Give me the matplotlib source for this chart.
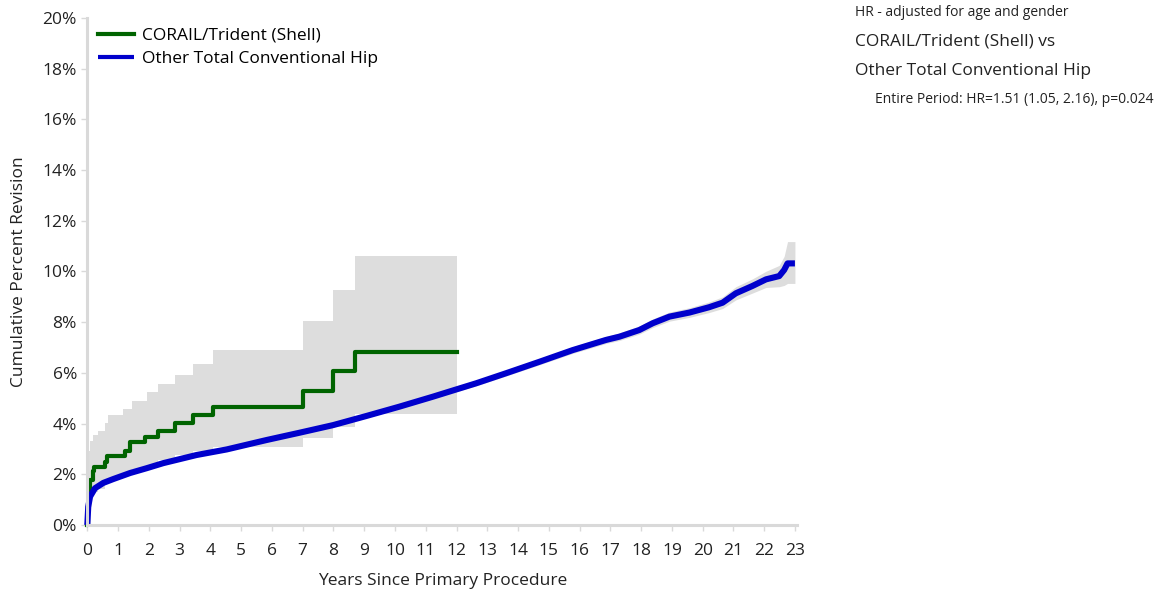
import matplotlib
matplotlib.use("Agg")
import matplotlib.pyplot as plt
from matplotlib.ticker import FuncFormatter

plt.rcParams["font.family"] = ["Open Sans", "DejaVu Sans"]

# --------- data ----------------------------------
# CORAIL/Trident (Shell): Kaplan-Meier steps (years, cumulative % revision)
green_years = [0, 0.02, 0.05, 0.1, 0.17, 0.22, 0.57, 0.65, 1.22, 1.38,
               1.87, 2.31, 2.85, 3.45, 4.1, 7.0, 8.0, 8.7, 12.03]
green_pct = [0, 0.7, 1.38, 1.78, 2.14, 2.28, 2.5, 2.72, 2.93, 3.29,
             3.46, 3.72, 4.01, 4.34, 4.67, 5.3, 6.09, 6.84, 6.84]

# CORAIL/Trident 95% CI
green_ci_years = [0, 0.02, 0.05, 0.1, 0.2, 0.36, 0.57, 0.68, 1.17, 1.44,
                  1.93, 2.31, 2.85, 3.43, 4.08, 7.0, 8.0, 8.7, 12.03]
green_hi = [0, 2.2, 2.9, 3.3, 3.55, 3.72, 4.01, 4.34, 4.56, 4.9,
            5.26, 5.56, 5.9, 6.35, 6.9, 8.05, 9.27, 10.6, 10.6]
green_lo = [0, 0.3, 0.8, 1.1, 1.3, 1.4, 1.6, 1.8, 2.0, 2.2,
            2.35, 2.55, 2.75, 2.9, 3.09, 3.44, 3.88, 4.37, 4.37]

# Other Total Conventional Hip
blue_years = [0, 0.03, 0.09, 0.25, 0.52, 0.84, 1.39, 1.93, 2.47, 3.01,
              3.55, 4.53, 5.82, 6.9, 7.99, 9.07, 10.15, 11.23, 12.0, 12.64,
              13.62, 14.7, 15.78, 16.86, 17.3, 17.94, 18.38, 18.92, 19.57, 20.21,
              20.65, 21.08, 21.62, 22.06, 22.49, 22.65, 22.76, 23.0]
blue_pct = [0, 0.72, 1.12, 1.45, 1.66, 1.81, 2.05, 2.24, 2.44, 2.6,
            2.76, 2.98, 3.35, 3.64, 3.94, 4.3, 4.67, 5.06, 5.35, 5.59,
            5.99, 6.44, 6.9, 7.3, 7.43, 7.69, 7.96, 8.22, 8.38, 8.59,
            8.77, 9.14, 9.43, 9.69, 9.82, 10.06, 10.32, 10.32]
blue_lo = [0, 0.68, 1.08, 1.41, 1.62, 1.77, 2.01, 2.2, 2.39, 2.55,
           2.71, 2.93, 3.29, 3.58, 3.87, 4.23, 4.59, 4.97, 5.26, 5.49,
           5.88, 6.32, 6.77, 7.16, 7.28, 7.53, 7.79, 8.04, 8.19, 8.38,
           8.54, 8.88, 9.15, 9.37, 9.4, 9.45, 9.53, 9.53]
blue_hi = [0, 0.76, 1.16, 1.49, 1.7, 1.85, 2.09, 2.28, 2.49, 2.65,
           2.81, 3.03, 3.41, 3.7, 4.01, 4.37, 4.75, 5.15, 5.44, 5.69,
           6.1, 6.56, 7.03, 7.44, 7.58, 7.85, 8.13, 8.4, 8.57, 8.8,
           9.0, 9.4, 9.71, 10.01, 10.24, 10.6, 11.18, 11.18]

x_ticks = list(range(0, 24))
y_ticks = list(range(0, 21, 2))

GREEN = "#006400"
BLUE = "#0000cc"
BAND = "#dddddd"
AXIS = "#d9d9d9"
TEXT = "#222222"

fig = plt.figure(figsize=(11.72, 5.89), dpi=100)
ax = fig.add_axes([0.0745, 0.1087, 0.6056, 0.8607])

ax.fill_between(green_ci_years, green_lo, green_hi, step="post",
                color=BAND, linewidth=0)
ax.fill_between(blue_years, blue_lo, blue_hi, color=BAND, linewidth=0)

ax.plot(green_years, green_pct, drawstyle="steps-post", color=GREEN,
        linewidth=3.0, label="CORAIL/Trident (Shell)", clip_on=False)
ax.plot(blue_years, blue_pct, color=BLUE, linewidth=4.4,
        label="Other Total Conventional Hip", clip_on=False,
        solid_capstyle="butt")

ax.set_xlim(0, 23.07)
ax.set_ylim(0, 20)
ax.set_xticks(x_ticks)
ax.set_yticks(y_ticks)
ax.yaxis.set_major_formatter(FuncFormatter(lambda v, p: f"{v:.0f}%"))

for s in ["top", "right"]:
    ax.spines[s].set_visible(False)
for s in ["left", "bottom"]:
    ax.spines[s].set_color(AXIS)
    ax.spines[s].set_linewidth(2.2)
ax.tick_params(axis="both", colors=AXIS, length=4, width=1,
               labelcolor=TEXT, labelsize=12.5)
ax.tick_params(axis="x", pad=9)

ax.set_xlabel("Years Since Primary Procedure", fontsize=12.5, color=TEXT,
              labelpad=10)
ax.set_ylabel("Cumulative Percent Revision", fontsize=12.5, color=TEXT,
              labelpad=11)

leg = ax.legend(loc="upper left", bbox_to_anchor=(0.005, 0.995), frameon=False,
                fontsize=12.5, handlelength=2.1, handletextpad=0.45,
                labelspacing=0.4, borderaxespad=0)
for h in leg.get_lines():
    h.set_linewidth(3.0)

fig.text(0.7295, 0.9796, "HR - adjusted for age and gender", fontsize=10,
         color=TEXT, va="center")
fig.text(0.7295, 0.9287, "CORAIL/Trident (Shell) vs", fontsize=12.5,
         color=TEXT, va="center")
fig.text(0.7295, 0.8795, "Other Total Conventional Hip", fontsize=12.5,
         color=TEXT, va="center")
fig.text(0.7466, 0.8319,
         "Entire Period: HR=1.51 (1.05, 2.16), p=0.024", fontsize=10,
         color=TEXT, va="center")

fig.savefig("out.png", dpi=100)
